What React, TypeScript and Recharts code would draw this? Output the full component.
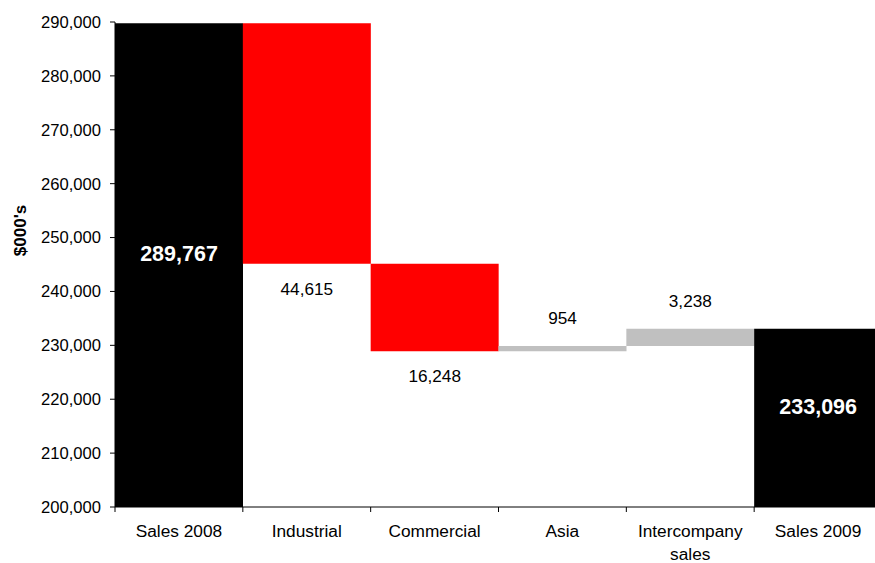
import React from "react";
import { BarChart, Bar, XAxis, YAxis, Cell, LabelList, Text } from "recharts";

const categories = ["Sales 2008", "Industrial", "Commercial", "Asia", "Intercompany sales", "Sales 2009"];
const amounts = [289767, -44615, -16248, 954, 3238, 233096];
const kinds = ["total", "down", "down", "up", "up", "total"];
const yTicks = [200000, 210000, 220000, 230000, 240000, 250000, 260000, 270000, 280000, 290000];

const AXIS_MIN = 200000;
const AXIS_MAX = 290000;

const colors: Record<string, string> = { total: "#000000", down: "#FF0000", up: "#C0C0C0" };

const FONT = "'Liberation Sans', Arial, sans-serif";
const CHART_W = 890;
const CHART_H = 563;
const MARGIN = { top: 22, right: 8, bottom: 6, left: 10 };
const Y_AXIS_W = 105;
const PLOT_W = CHART_W - MARGIN.left - MARGIN.right - Y_AXIS_W;
const X_TICK_SIZE = 5;
const X_TICK_MARGIN = 13;

// build waterfall ranges from the amounts
let running = 0;
const data = categories.map((name, i) => {
  const v = amounts[i];
  let range: number[];
  if (kinds[i] === "total") {
    range = [AXIS_MIN, v];
    running = v;
  } else {
    range = [Math.min(running, running + v), Math.max(running, running + v)];
    running += v;
  }
  return { name, range, kind: kinds[i] };
});

function XTick(props: any) {
  const { x, y, payload } = props;
  const band = PLOT_W / categories.length;
  const lx = x - band / 2;
  return (
    <g>
      <line x1={lx} x2={lx} y1={y - X_TICK_MARGIN - X_TICK_SIZE} y2={y - X_TICK_MARGIN} stroke="#000" />
      <Text
        x={x}
        y={y}
        width={band - 8}
        textAnchor="middle"
        verticalAnchor="start"
        lineHeight="1.3em"
        fontSize={17.3}
        fontFamily={FONT}
        fill="#000"
      >
        {payload.value}
      </Text>
    </g>
  );
}

function YTitle(props: any) {
  const vb = props.viewBox || { x: 0, y: 0, width: 0, height: 0 };
  const cx = vb.x + 10;
  const cy = vb.y + vb.height / 2 - 34;
  return (
    <text
      x={cx}
      y={cy}
      transform={`rotate(-90, ${cx}, ${cy})`}
      textAnchor="middle"
      dominantBaseline="central"
      fontFamily={FONT}
      fontWeight="bold"
      fontSize={17}
      fill="#000"
    >
      $000's
    </text>
  );
}

function ValueLabel(props: any) {
  const vb = props.viewBox || props;
  const { x, y, width, height } = vb;
  const index = props.index;
  const top = Math.min(y, y + height);
  const bottom = Math.max(y, y + height);
  const cx = x + width / 2;
  const kind = kinds[index];
  const text = Math.abs(amounts[index]).toLocaleString("en-US");
  if (kind === "total") {
    return (
      <text x={cx} y={(top + bottom) / 2 - 11} textAnchor="middle" dominantBaseline="central"
        fill="#fff" fontWeight="bold" fontSize={21.5} fontFamily={FONT}>
        {text}
      </text>
    );
  }
  const ly = kind === "down" ? bottom + 25 : top - 28;
  return (
    <text x={cx} y={ly} textAnchor="middle" dominantBaseline="central"
      fill="#000" fontSize={17.2} fontFamily={FONT}>
      {text}
    </text>
  );
}

export default function App() {
  return (
    <div style={{ position: "fixed", left: 0, top: 0, width: 875, height: 563, overflow: "hidden", background: "#fff" }}>
      <BarChart width={CHART_W} height={CHART_H} data={data} margin={MARGIN} barCategoryGap={0}>
        <XAxis
          dataKey="name"
          height={50}
          axisLine={{ stroke: "#000" }}
          tickLine={false}
          tickSize={X_TICK_SIZE}
          tickMargin={X_TICK_MARGIN}
          interval={0}
          tick={<XTick />}
        />
        <YAxis
          width={Y_AXIS_W}
          domain={[AXIS_MIN, AXIS_MAX]}
          ticks={yTicks}
          allowDataOverflow
          axisLine={{ stroke: "#000" }}
          tickLine={{ stroke: "#000" }}
          tickSize={5}
          tickMargin={9}
          tick={{ fontSize: 16.6, fill: "#000", fontFamily: FONT }}
          tickFormatter={(v: number) => v.toLocaleString("en-US")}
          label={<YTitle />}
        />
        <Bar dataKey="range" isAnimationActive={false}>
          {data.map((d, i) => (
            <Cell key={i} fill={colors[d.kind]} />
          ))}
          <LabelList dataKey="range" content={<ValueLabel />} />
        </Bar>
      </BarChart>
    </div>
  );
}
